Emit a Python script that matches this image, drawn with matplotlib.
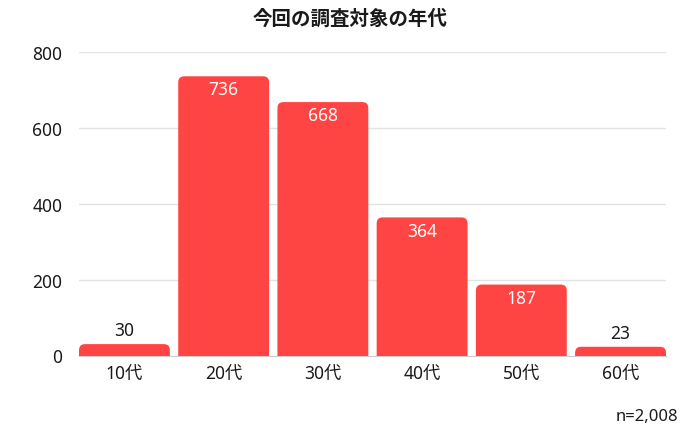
import matplotlib
matplotlib.use("Agg")
import matplotlib.pyplot as plt
from matplotlib.patches import FancyBboxPatch

plt.rcParams['font.family'] = ['Noto Sans', 'Noto Sans CJK JP', 'DejaVu Sans']

categories = ['10代', '20代', '30代', '40代', '50代', '60代']
counts = [30, 736, 668, 364, 187, 23]
yticks = [0, 200, 400, 600, 800]
title = '今回の調査対象の年代'
note = 'n=2,008'

bar_color = '#FF4444'
text_color = '#1a1a1a'
width = 0.916

fig = plt.figure(figsize=(7, 4.31), dpi=100)
ax = fig.add_axes([79 / 700, 1 - 356.5 / 431, 587 / 700, 303.5 / 431])
ax.set_xlim(-width / 2, len(categories) - 1 + width / 2)
ax.set_ylim(0, 800)

# data units per pixel, used to keep the corner rounding circular
xpp = (len(categories) - 1 + width) / 587
ypp = 800 / 303.5
radius_px = 6

for i, v in enumerate(counts):
    patch = FancyBboxPatch((i - width / 2, -40), width, v + 40,
                           boxstyle=f"round,pad=0,rounding_size={radius_px * xpp}",
                           mutation_aspect=ypp / xpp,
                           facecolor=bar_color, edgecolor='none', zorder=2)
    ax.add_patch(patch)
    if v > 100:
        ax.annotate(str(v), (i, v), xytext=(0, -9.5), textcoords='offset points',
                    ha='center', va='center', color='white', fontsize=12.5, zorder=3)
    else:
        ax.annotate(str(v), (i, v), xytext=(0, 10), textcoords='offset points',
                    ha='center', va='center', color=text_color, fontsize=12.5, zorder=3)

ax.set_yticks(yticks)
ax.set_yticklabels([str(t) for t in yticks], fontsize=12.5, color=text_color)
ax.set_xticks(range(len(categories)))
ax.set_xticklabels(categories, fontsize=12.5, color=text_color)
ax.tick_params(length=0)
ax.tick_params(axis='y', pad=12)
ax.tick_params(axis='x', pad=6)
ax.grid(axis='y', color='#e3e3e3', linewidth=1, zorder=0)
ax.set_axisbelow(True)
for s in ['top', 'right', 'left']:
    ax.spines[s].set_visible(False)
ax.spines['bottom'].set_color('#cccccc')
ax.spines['bottom'].set_zorder(1)

fig.text(0.5, 1 - 19 / 431, title, ha='center', va='center',
         fontsize=14, fontweight='bold', color=text_color,
         family=['Noto Sans CJK JP', 'DejaVu Sans'])
fig.text(678 / 700, 1 - 417 / 431, note, ha='right', va='center',
         fontsize=12, color=text_color)

fig.savefig('out.png', dpi=100)
